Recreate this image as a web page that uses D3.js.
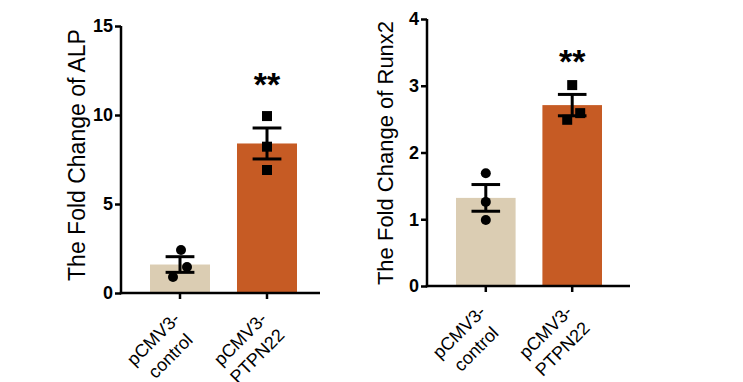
<!DOCTYPE html>
<html>
<head>
<meta charset="utf-8">
<script src="https://cdn.jsdelivr.net/npm/d3@7"></script>
<style>
  html, body { margin: 0; padding: 0; background: #fff; }
  svg { display: block; font-family: "Liberation Sans", Arial, sans-serif; }
</style>
</head>
<body>
<svg id="chart" width="743" height="382"></svg>
<script>
// ---- data ----
const categories = ["pCMV3-\ncontrol", "pCMV3-\nPTPN22"];
const barColors = ["#dbcdb3", "#c65b24"];

const alpMeans = [1.6, 8.4];
const alpSem = [0.44, 0.87];
const alpPoints = [[2.42, 1.46, 0.9], [9.94, 8.22, 6.91]];
const alpTicks = [0, 5, 10, 15];

const runxMeans = [1.32, 2.71];
const runxSem = [0.2, 0.16];
const runxPoints = [[1.69, 1.26, 0.99], [3.01, 2.59, 2.49]];
const runxTicks = [0, 1, 2, 3, 4];

const significance = ["", "**"];

// ---- drawing ----
const svg = d3.select("#chart");

function drawPanel(cfg) {
  const g = svg.append("g");
  const y = d3.scaleLinear().domain(cfg.yDomain).range([cfg.yBottom, cfg.yTop]);
  const x = d3.scaleBand().domain(categories).range(cfg.barRange).paddingInner(0.3103);
  const bw = x.bandwidth();

  // bars
  g.selectAll("rect.bar").data(categories).enter().append("rect")
    .attr("x", d => x(d)).attr("width", bw)
    .attr("y", (d, i) => y(cfg.means[i]))
    .attr("height", (d, i) => y(0) - y(cfg.means[i]))
    .attr("fill", (d, i) => barColors[i]);

  // error bars
  categories.forEach((c, i) => {
    const cx = x(c) + bw / 2;
    const hi = y(cfg.means[i] + cfg.sem[i]);
    const lo = y(cfg.means[i] - cfg.sem[i]);
    const capW = bw * 0.48;
    const eg = g.append("g").attr("stroke", "#000").attr("stroke-width", 3);
    eg.append("line").attr("x1", cx).attr("x2", cx).attr("y1", hi).attr("y2", lo);
    eg.append("line").attr("x1", cx - capW / 2).attr("x2", cx + capW / 2).attr("y1", hi).attr("y2", hi);
    eg.append("line").attr("x1", cx - capW / 2).attr("x2", cx + capW / 2).attr("y1", lo).attr("y2", lo);
  });

  // points
  categories.forEach((c, i) => {
    const cx = x(c) + bw / 2;
    cfg.points[i].forEach((v, j) => {
      const px = cx + cfg.jitter[i][j];
      if (i === 0) {
        g.append("circle").attr("cx", px).attr("cy", y(v)).attr("r", 5).attr("fill", "#000");
      } else {
        g.append("rect").attr("x", px - 5).attr("y", y(v) - 5).attr("width", 10).attr("height", 10).attr("fill", "#000");
      }
    });
  });

  // significance stars
  categories.forEach((c, i) => {
    if (!significance[i]) return;
    g.append("text").attr("x", x(c) + bw / 2).attr("y", cfg.starY)
      .attr("text-anchor", "middle").attr("font-size", 34).attr("font-weight", "bold")
      .text(significance[i]);
  });

  // y axis
  const yAxis = d3.axisLeft(y).tickValues(cfg.ticks).tickFormat(d3.format("d"))
    .tickSize(6).tickPadding(2).tickSizeOuter(0);
  const ya = g.append("g").attr("transform", `translate(${cfg.axisX},0)`).call(yAxis);
  ya.select(".domain").attr("stroke", "#000").attr("stroke-width", 2.5)
    .attr("d", `M0,${cfg.yBottom + 1.25}V${cfg.yTop}`);
  ya.selectAll(".tick line").attr("stroke", "#000").attr("stroke-width", 2.5);
  ya.selectAll(".tick text").attr("font-size", 18).attr("font-weight", "bold")
    .attr("fill", "#000").attr("font-family", "Liberation Sans, Arial, sans-serif");

  // x axis
  const xAxis = d3.axisBottom(x).tickSize(6).tickFormat("").tickSizeOuter(0);
  const xa = g.append("g").attr("transform", `translate(0,${cfg.yBottom})`).call(xAxis);
  xa.select(".domain").attr("stroke", "#000").attr("stroke-width", 2.5)
    .attr("d", `M${cfg.axisX - 1.25},0H${cfg.axisEnd}`);
  xa.selectAll(".tick line").attr("stroke", "#000").attr("stroke-width", 2.5);

  // x labels rotated
  categories.forEach(c => {
    const lines = c.split("\n");
    const lg = g.append("g")
      .attr("transform", `translate(${x(c) + bw / 2 + cfg.labelDx},${cfg.yBottom + cfg.labelDy}) rotate(-45)`);
    const texts = lines.map((l, k) => lg.append("text").attr("font-size", 18)
      .attr("y", k * cfg.lineH).text(l));
    const widths = texts.map(t => t.node().getComputedTextLength());
    const w0 = widths[0];
    texts.forEach((t, k) => t.attr("x", -w0 / 2).attr("text-anchor", "middle"));
  });

  // y title
  g.append("text")
    .attr("transform", `translate(${cfg.titleX},${cfg.titleY}) rotate(-90)`)
    .attr("text-anchor", "middle").attr("font-size", cfg.titleSize).text(cfg.title);
}

drawPanel({
  yDomain: [0, 15], yTop: 26, yBottom: 293, axisX: 121, axisEnd: 320,
  barRange: [150, 297], means: alpMeans, sem: alpSem, points: alpPoints, ticks: alpTicks,
  jitter: [[1, 7, -7], [0, 0, 0]], starY: 96, title: "The Fold Change of ALP",
  titleX: 85, titleY: 155, titleSize: 23,
  labelDx: 1, labelDy: 27, lineH: 24
});

drawPanel({
  yDomain: [0, 4], yTop: 19, yBottom: 286, axisX: 427, axisEnd: 630,
  barRange: [456, 602], means: runxMeans, sem: runxSem, points: runxPoints, ticks: runxTicks,
  jitter: [[0, 0, 0], [0, 8, -5]], starY: 73, title: "The Fold Change of Runx2",
  titleX: 393, titleY: 153, titleSize: 22,
  labelDx: 1, labelDy: 27, lineH: 24
});
</script>
</body>
</html>
